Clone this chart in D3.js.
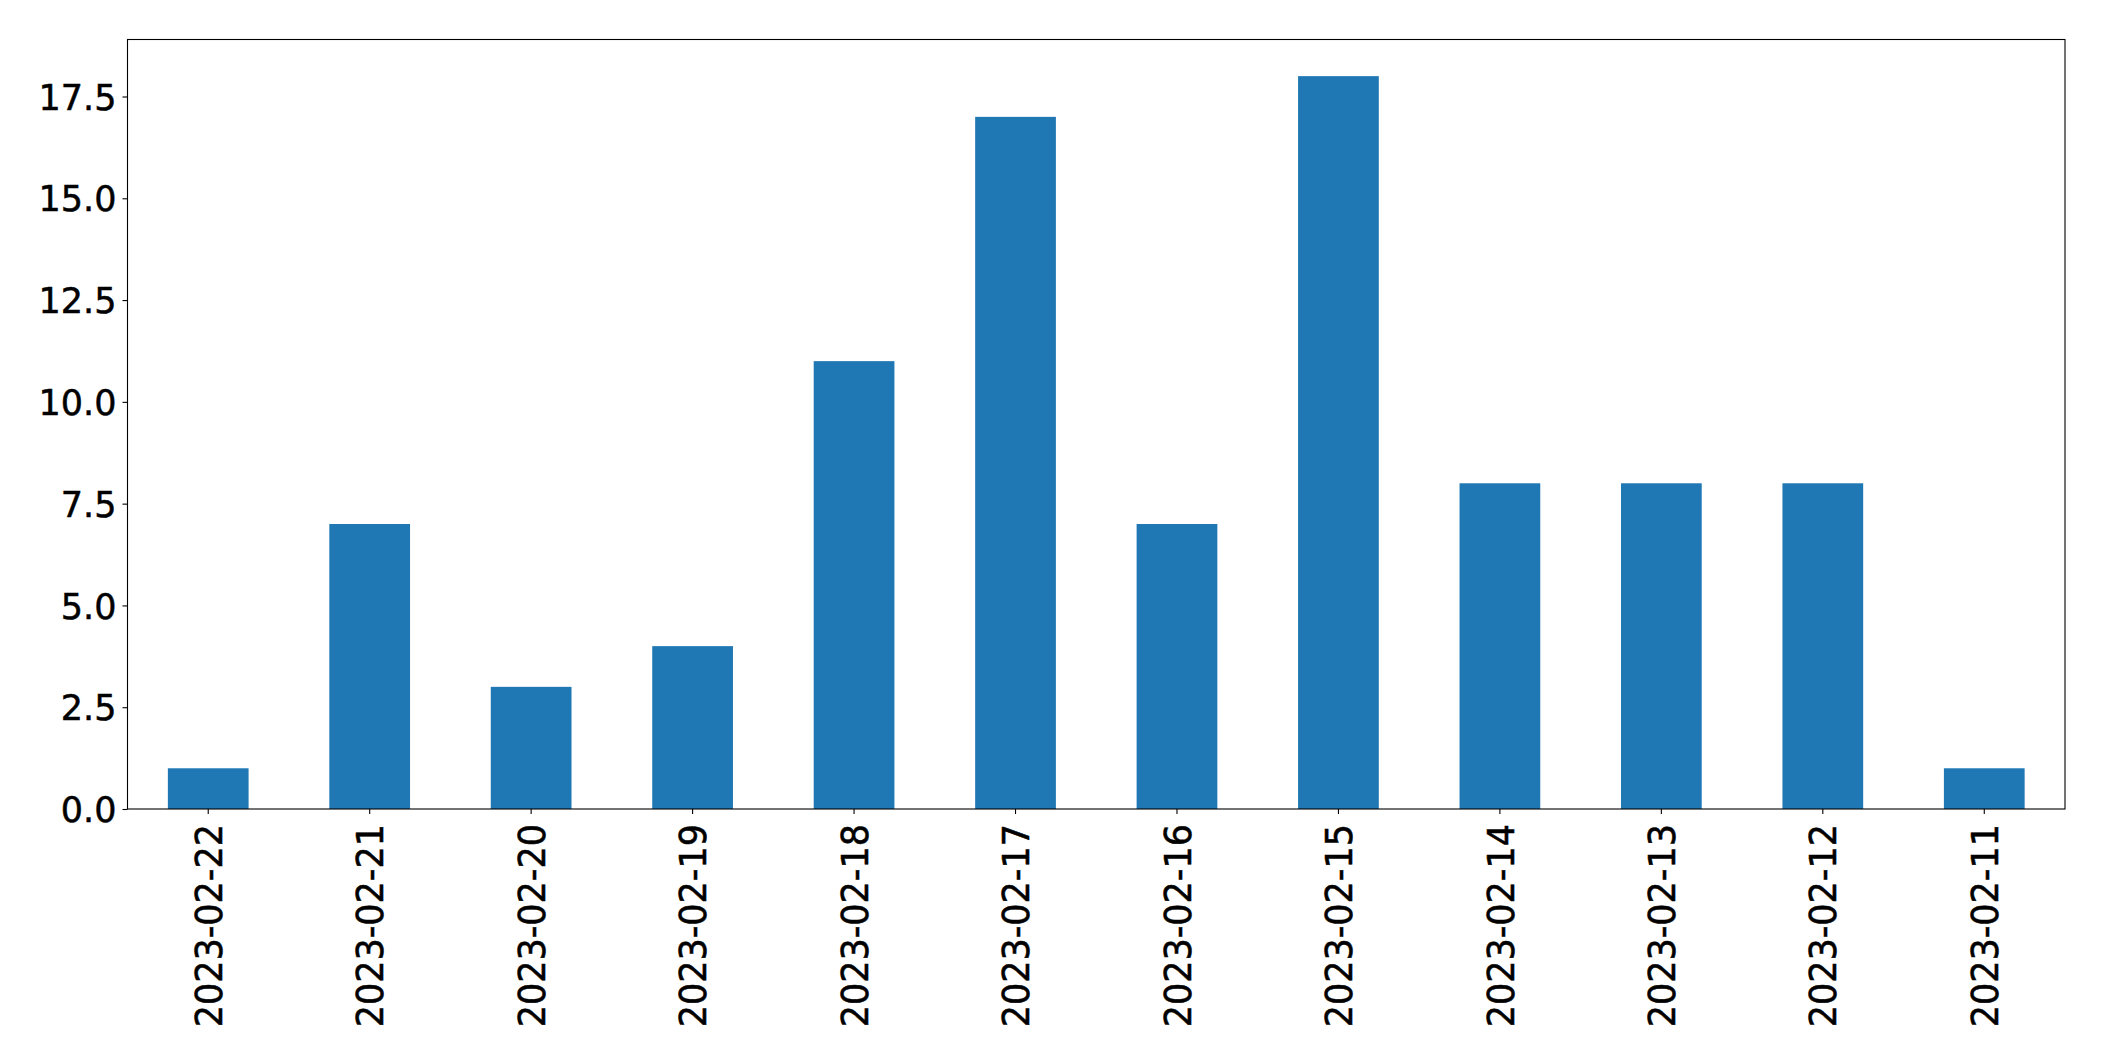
<!DOCTYPE html>
<html>
<head>
<meta charset="utf-8">
<script src="https://cdn.jsdelivr.net/npm/d3@7"></script>
<style>
  html, body { margin: 0; padding: 0; background: #fff; }
  svg { display: block; }
  text { font-family: "DejaVu Sans", sans-serif; fill: #000; }
</style>
</head>
<body>
<svg id="chart" width="2104" height="1061"></svg>
<script>
const categories = ["2023-02-22","2023-02-21","2023-02-20","2023-02-19","2023-02-18","2023-02-17","2023-02-16","2023-02-15","2023-02-14","2023-02-13","2023-02-12","2023-02-11"];
const values = [1, 7, 3, 4, 11, 17, 7, 18, 8, 8, 8, 1];
const yTicks = [0, 2.5, 5, 7.5, 10, 12.5, 15, 17.5];

(function () {
const svg = d3.select("#chart");
const mLeft = 127.5, mRight = 2065, mTop = 39.5, mBottom = 809;
const fontSize = 35;

const x = d3.scaleBand().domain(categories).range([mLeft, mRight]).paddingInner(0.5).paddingOuter(0.25);
const y = d3.scaleLinear().domain([0, d3.max(values) * 1.05]).range([mBottom, mTop]);

svg.append("g").selectAll("rect").data(categories).join("rect")
  .attr("x", (d) => x(d))
  .attr("width", x.bandwidth())
  .attr("y", (d, i) => y(values[i]))
  .attr("height", (d, i) => y(0) - y(values[i]))
  .attr("fill", "#1f77b4");

const yAxis = svg.append("g").attr("transform", `translate(${mLeft},0)`)
  .call(d3.axisLeft(y).tickValues(yTicks).tickFormat(d3.format(".1f")).tickSize(5).tickPadding(6));
yAxis.select(".domain").remove();
yAxis.selectAll("line").attr("stroke", "#000").attr("stroke-width", 1.1);
yAxis.selectAll("text").attr("font-size", fontSize).attr("font-family", "DejaVu Sans")
  .attr("fill", "#000").attr("stroke", "#000").attr("stroke-width", 0.5).attr("dy", "0.36em");

const xAxis = svg.append("g").attr("transform", `translate(0,${mBottom})`)
  .call(d3.axisBottom(x).tickSize(5).tickPadding(0));
xAxis.select(".domain").remove();
xAxis.selectAll("line").attr("stroke", "#000").attr("stroke-width", 1.1);
xAxis.selectAll("text")
  .attr("font-size", fontSize).attr("font-family", "DejaVu Sans")
  .attr("fill", "#000").attr("stroke", "#000").attr("stroke-width", 0.5)
  .attr("text-anchor", "end")
  .attr("transform", "rotate(-90) scale(1,1.08)")
  .attr("x", -15).attr("y", 0).attr("dy", "0.36em");

svg.append("rect")
  .attr("x", mLeft).attr("y", mTop)
  .attr("width", mRight - mLeft).attr("height", mBottom - mTop)
  .attr("fill", "none").attr("stroke", "#000").attr("stroke-width", 1.1);
})();
</script>
</body>
</html>
